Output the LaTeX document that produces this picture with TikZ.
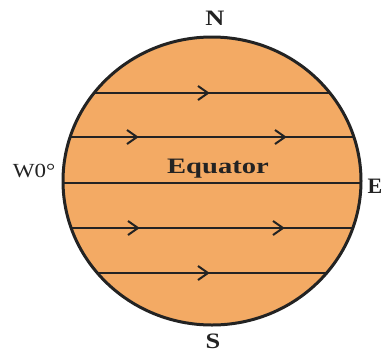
\documentclass[tikz,border=0pt]{standalone}
\usepackage{fontspec}
\setmainfont{Liberation Serif}
\definecolor{globe}{RGB}{243,170,100}
\definecolor{ink}{RGB}{35,35,35}
\newcommand{\wideText}[2]{\scalebox{#1}[1]{#2}}
\begin{document}
\begin{tikzpicture}[x=1pt,y=-1pt,
  lat/.style={line width=2.8pt,draw=ink},
  chev/.style={line width=2pt,draw=ink,line join=miter},
  boldlbl/.style={font=\bfseries\fontsize{22}{22}\selectfont,text=ink,inner sep=0pt,anchor=base},
  plainlbl/.style={font=\fontsize{20}{20}\selectfont,text=ink,inner sep=0pt,anchor=base}]
\useasboundingbox (0,0) rectangle (383,354);
\fill[globe] (212,181) ellipse [x radius=149,y radius=144];
\begin{scope}
  \clip (212,181) ellipse [x radius=149,y radius=144];
  \foreach \yy in {93,137,183,228,273} {\draw[lat] (40,\yy) -- (390,\yy);}
\end{scope}
\draw[line width=3pt,draw=ink] (212,181) ellipse [x radius=149,y radius=144];
% arrowheads
\foreach \ax/\ay in {208/93,137/137,285/137,138/228,283/228,208/273}
  {\draw[chev] (\ax-10,\ay-7) -- (\ax,\ay) -- (\ax-10,\ay+7);}
\node[boldlbl] (n) at (215,25) {\wideText{1.2}{N}};
\node[boldlbl] (s) at (213,348) {\wideText{1.2}{S}};
\node[boldlbl] (e) at (375,193) {E};
\node[plainlbl] (w) at (34,177) {\wideText{1.15}{W0°}};
\node[boldlbl,font=\bfseries\fontsize{22}{22}\selectfont] (eq) at (218,173) {\wideText{1.3}{Equator}};
\end{tikzpicture}
\end{document}
